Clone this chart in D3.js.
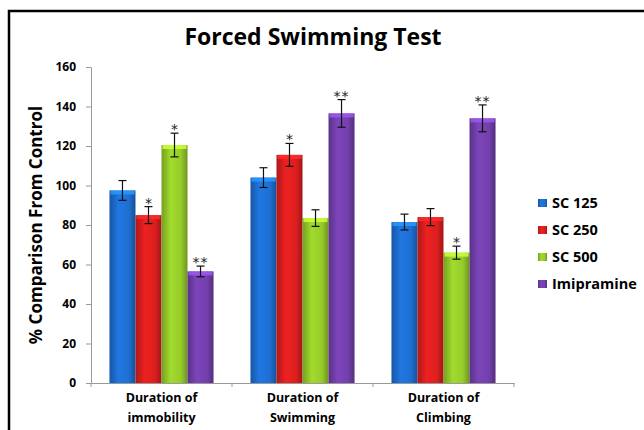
<!DOCTYPE html>
<html>
<head>
<meta charset="utf-8">
<script src="https://cdn.jsdelivr.net/npm/d3@7"></script>
<style>
  body { margin: 0; background: #fff; }
  svg { display: block; font-family: "Open Sans", Lato, sans-serif; }
</style>
</head>
<body>
<div id="chart"></div>
<script>
const categories = [["Duration of", "immobility"], ["Duration of", "Swimming"], ["Duration of", "Climbing"]];
const seriesNames = ["SC 125", "SC 250", "SC 500", "Imipramine"];
const seriesColors = ["#1e6fd2", "#dd1f1f", "#96cc2a", "#7340ad"];
const values = [
  [97.5, 104, 81.5],
  [85, 115.5, 84],
  [120.5, 83.5, 66],
  [56.5, 136.5, 134]
];
const errors = [
  [5, 5, 4],
  [4.3, 5.8, 4.3],
  [6, 4.2, 3.3],
  [2.7, 7, 6.8]
];
const stars = [
  ["", "", ""],
  ["*", "*", ""],
  ["*", "", "*"],
  ["**", "**", "**"]
];
const yTicks = [0, 20, 40, 60, 80, 100, 120, 140, 160];

const W = 644, H = 430;
const margin = { top: 67, left: 91, bottom: 47, right: 130 };

const svg = d3.select("#chart").append("svg")
  .attr("width", W)
  .attr("height", H);

// outer frame (only top and left are visible in the crop)
svg.append("rect")
  .attr("x", 9).attr("y", 11)
  .attr("width", 700).attr("height", 500)
  .attr("fill", "none")
  .attr("stroke", "#000")
  .attr("stroke-width", 2.5);

const x0 = d3.scaleBand()
  .domain(d3.range(categories.length))
  .range([margin.left, 514])
  .paddingInner(0)
  .paddingOuter(0);

const x1 = d3.scaleBand()
  .domain(d3.range(seriesNames.length))
  .range([0, x0.bandwidth()])
  .paddingOuter(0.71)
  .paddingInner(0);

const y = d3.scaleLinear()
  .domain([0, 160])
  .range([383, 67]);

// gradients for the glossy bars
const defs = svg.append("defs");
seriesColors.forEach((c, i) => {
  const g = defs.append("linearGradient")
    .attr("id", "grad" + i)
    .attr("x1", "0%").attr("x2", "100%").attr("y1", "0%").attr("y2", "0%");
  g.append("stop").attr("offset", "0%").attr("stop-color", d3.color(c).darker(0.7));
  g.append("stop").attr("offset", "35%").attr("stop-color", d3.color(c).brighter(0.2));
  g.append("stop").attr("offset", "75%").attr("stop-color", c);
  g.append("stop").attr("offset", "100%").attr("stop-color", d3.color(c).darker(0.9));
});

// title
svg.append("text")
  .attr("x", 313).attr("y", 45)
  .attr("text-anchor", "middle")
  .attr("font-size", 23)
  .attr("font-weight", "bold")
  .text("Forced Swimming Test");

// y axis
const yAxis = svg.append("g")
  .attr("transform", `translate(${margin.left},0)`)
  .call(d3.axisLeft(y).tickValues(yTicks).tickSize(5).tickPadding(10));
yAxis.select(".domain").attr("stroke", "#999");
yAxis.selectAll(".tick line").attr("stroke", "#999");
yAxis.selectAll(".tick text")
  .attr("font-size", 12)
  .attr("font-weight", "bold")
  .attr("fill", "#000")
  .attr("font-family", "'Open Sans', sans-serif");

svg.append("text")
  .attr("transform", "translate(42,225) rotate(-90)")
  .attr("text-anchor", "middle")
  .attr("font-size", 17)
  .attr("font-weight", "bold")
  .text("% Comparison From Control");

// x axis
const xAxis = svg.append("g")
  .attr("transform", `translate(0,${y(0)})`)
  .call(d3.axisBottom(x0).tickSize(0).tickFormat(""));
xAxis.select(".domain").attr("stroke", "#999");
// boundary ticks between categories
svg.selectAll(".xb")
  .data(d3.range(categories.length + 1))
  .enter().append("line")
  .attr("x1", d => margin.left + d * x0.bandwidth())
  .attr("x2", d => margin.left + d * x0.bandwidth())
  .attr("y1", y(0)).attr("y2", y(0) + 4)
  .attr("stroke", "#999");

categories.forEach((lines, ci) => {
  const t = svg.append("text")
    .attr("x", x0(ci) + x0.bandwidth() / 2)
    .attr("y", 402)
    .attr("text-anchor", "middle")
    .attr("font-size", 12.5)
    .attr("font-weight", "bold");
  lines.forEach((s, li) => {
    t.append("tspan")
      .attr("x", x0(ci) + x0.bandwidth() / 2)
      .attr("dy", li === 0 ? 0 : 20)
      .text(s);
  });
});

// bars
const barData = [];
seriesNames.forEach((s, si) => {
  categories.forEach((c, ci) => {
    barData.push({ si, ci, v: values[si][ci], e: errors[si][ci], star: stars[si][ci] });
  });
});

const bw = x1.bandwidth();
const bars = svg.append("g").selectAll("g")
  .data(barData)
  .enter().append("g")
  .attr("transform", d => `translate(${x0(d.ci) + x1(d.si)},0)`);

bars.append("rect")
  .attr("x", 0)
  .attr("y", d => y(d.v))
  .attr("width", bw)
  .attr("height", d => y(0) - y(d.v))
  .attr("fill", d => `url(#grad${d.si})`);

// light top cap
bars.append("rect")
  .attr("x", 1)
  .attr("y", d => y(d.v))
  .attr("width", bw - 2)
  .attr("height", 4)
  .attr("fill", d => d3.color(seriesColors[d.si]).brighter(0.9))
  .attr("opacity", 0.85);

// error bars
bars.append("line")
  .attr("x1", bw / 2).attr("x2", bw / 2)
  .attr("y1", d => y(d.v + d.e))
  .attr("y2", d => y(d.v - d.e))
  .attr("stroke", "#111").attr("stroke-width", 1.2);
bars.selectAll(".cap")
  .data(d => [d.v + d.e, d.v - d.e])
  .enter().append("line")
  .attr("x1", bw / 2 - 4).attr("x2", bw / 2 + 4)
  .attr("y1", d => y(d)).attr("y2", d => y(d))
  .attr("stroke", "#111").attr("stroke-width", 1.2);

bars.filter(d => d.star).append("text")
  .attr("x", bw / 2)
  .attr("y", d => y(d.v + d.e) + 1)
  .attr("text-anchor", "middle")
  .attr("font-size", 14)
  .attr("font-family", "'DejaVu Sans', sans-serif")
  .attr("letter-spacing", d => d.star.length > 1 ? 1 : 0)
  .attr("fill", "#222")
  .text(d => d.star);

// legend
const legend = svg.append("g")
  .selectAll("g")
  .data(seriesNames)
  .enter().append("g")
  .attr("transform", (d, i) => `translate(538,${203 + i * 27})`);

legend.append("rect")
  .attr("x", 0).attr("y", -4)
  .attr("width", 9).attr("height", 8)
  .attr("fill", (d, i) => `url(#grad${i})`);

legend.append("text")
  .attr("x", 14).attr("y", 5)
  .attr("font-size", 14.5)
  .attr("font-weight", "bold")
  .text(d => d);
</script>
</body>
</html>
